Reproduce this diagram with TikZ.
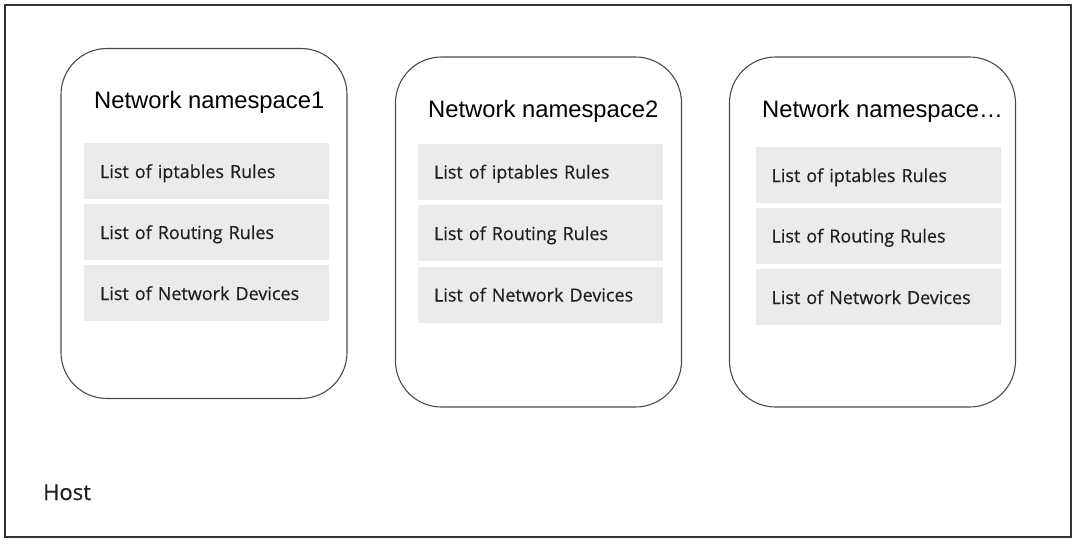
\documentclass[tikz,border=0pt]{standalone}
\usepackage{fontspec}
\setmainfont{Liberation Sans}
\newfontfamily\rowfont[FakeBold=0.35]{Open Sans}
\newfontfamily\hostfont[FakeBold=0.35]{Open Sans}
\begin{document}
\begin{tikzpicture}[x=1pt,y=-1pt,
  hostframe/.style={draw=black!80, line width=1.2pt, minimum width=1066pt, minimum height=532pt, inner sep=0pt},
  nsbox/.style={draw=black!70, line width=1.1pt, rounded corners=46pt, minimum width=286pt, minimum height=350pt, inner sep=0pt},
  rowbox/.style={fill=black!8, draw=none, minimum width=245pt, minimum height=56pt, inner xsep=16pt, inner ysep=0pt, text width=213pt, text height=16pt, text depth=2pt, align=left, font=\rowfont\fontsize{18}{20}\selectfont, text=black!88},
  nstitle/.style={anchor=base west, inner sep=0pt, font=\fontsize{23.8}{26}\selectfont, text=black},
  hostlabel/.style={anchor=base west, inner sep=0pt, font=\hostfont\fontsize{22}{24}\selectfont, text=black!88}]
\fill[white] (0,0) rectangle (1080,547);
\useasboundingbox (0,0) rectangle (1080,547);
\node[hostframe] (host) at (538,271) {};
\node[hostlabel] (hostname) at (43,500) {Host};
% namespace 1
\node[nsbox] (ns1) at (204,223.5) {};
\node[nstitle] (t1) at (94,108) {Network namespace1};
\node[rowbox] (r11) at (206.5,171) {List of iptables Rules};
\node[rowbox] (r12) at (206.5,232) {List of Routing Rules};
\node[rowbox] (r13) at (206.5,293) {List of Network Devices};
% namespace 2
\node[nsbox] (ns2) at (538.5,232) {};
\node[nstitle] (t2) at (428,117) {Network namespace2};
\node[rowbox] (r21) at (540.5,171.5) {List of iptables Rules};
\node[rowbox] (r22) at (540.5,233) {List of Routing Rules};
\node[rowbox] (r23) at (540.5,294.5) {List of Network Devices};
% namespace 3
\node[nsbox] (ns3) at (872.5,232) {};
\node[nstitle] (t3) at (762,117) {Network namespace…};
\node[rowbox] (r31) at (878,175) {List of iptables Rules};
\node[rowbox] (r32) at (878,235.5) {List of Routing Rules};
\node[rowbox] (r33) at (878,297) {List of Network Devices};
\end{tikzpicture}
\end{document}
